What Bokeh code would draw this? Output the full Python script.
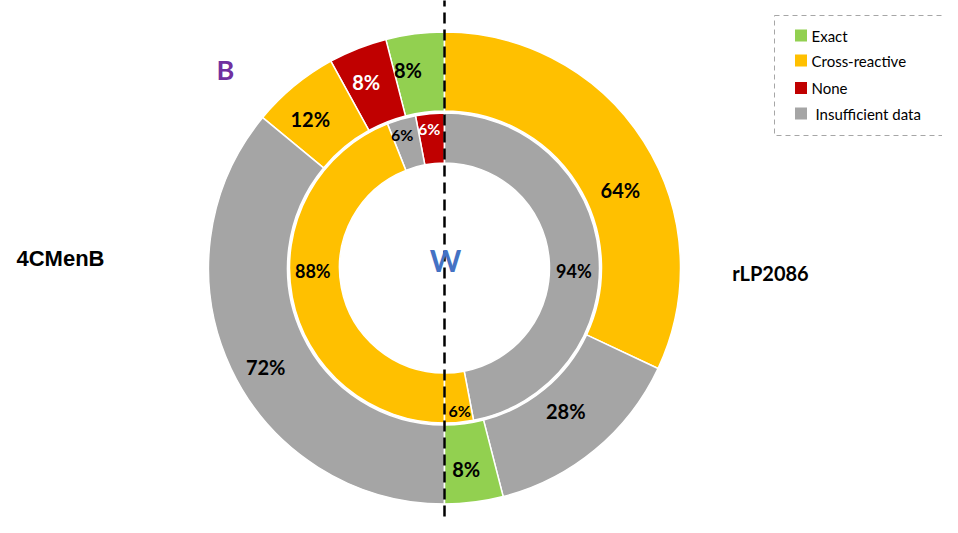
import math
from bokeh.plotting import figure
from bokeh.models import ColumnDataSource, Range1d
from bokeh.core.properties import value
from bokeh.embed import file_html
from bokeh.resources import INLINE

# ---------------- data ----------------
categories = ["Exact", "Cross-reactive", "None", "Insufficient data"]
colors = ["#92D050", "#FFC000", "#C00000", "#A5A5A5"]

# 4CMenB (left half, from top going anticlockwise)
left_outer_cats = ["Exact", "None", "Cross-reactive", "Insufficient data"]
left_outer_vals = [8, 8, 12, 72]
left_inner_cats = ["None", "Insufficient data", "Cross-reactive"]
left_inner_vals = [6, 6, 88]

# rLP2086 (right half, from top going clockwise)
right_outer_cats = ["Cross-reactive", "Insufficient data", "Exact"]
right_outer_vals = [64, 28, 8]
right_inner_cats = ["Insufficient data", "Cross-reactive"]
right_inner_vals = [94, 6]

group_names = ["4CMenB", "rLP2086"]

# ---------------- layout (pixel space, y up) ----------------
W, H = 958, 533
M = 8
FW, FH = W - 2 * M, H - 2 * M
CX, CY = 444, H - 267.5
R_OUT_O, R_OUT_I = 236, 157
R_IN_O, R_IN_I = 155, 105

# label nudges (pixels, x right / y down) relative to ring mid-point
nudge = {
    ("L", "outer"): [(-12, -3), (-6, -3), (-9, 2), (-1, 15)],
    ("L", "inner"): [(-3, -10), (-6, -9), (-4, -21)],
    ("R", "outer"): [(10, 27), (-4, -8), (-3, 6)],
    ("R", "inner"): [(0, 15), (3, 13)],
}
label_size = {"outer": "20px", "inner": "18px"}

p = figure(width=FW, height=FH, output_backend="svg",
           toolbar_location=None, x_range=Range1d(0, FW),
           y_range=Range1d(H - FH, H), min_border=0)
p.axis.visible = False
p.grid.visible = False
p.outline_line_color = None
p.background_fill_color = "white"

col = dict(zip(categories, colors))


def ring(cats, vals, side, which, r_in, r_out):
    starts, ends, fills = [], [], []
    lx, ly, txt, tcol, tsize = [], [], [], [], []
    cum = 0.0
    for i, (c, v) in enumerate(zip(cats, vals)):
        a0 = cum * 1.8
        a1 = (cum + v) * 1.8
        cum += v
        if side == "L":
            s, e = 90 + a0, 90 + a1
        else:
            s, e = 90 - a1, 90 - a0
        starts.append(math.radians(s))
        ends.append(math.radians(e))
        fills.append(col[c])
        mid = math.radians((s + e) / 2)
        rm = (r_in + r_out) / 2
        dx, dy = nudge[(side, which)][i]
        lx.append(CX + rm * math.cos(mid) + dx)
        ly.append(CY + rm * math.sin(mid) - dy)
        txt.append(f"{v}%")
        tcol.append("white" if c == "None" else "black")
        small = v <= 6 and which == "inner"
        tsize.append("16px" if small else label_size[which])
    src = ColumnDataSource(dict(s=starts, e=ends, f=fills))
    p.annular_wedge(x=CX, y=CY, inner_radius=r_in, outer_radius=r_out,
                    start_angle="s", end_angle="e", fill_color="f",
                    line_color="white", line_width=1.5, source=src)
    return dict(x=lx, y=ly, t=txt, c=tcol, z=tsize)


labels = []
labels.append(ring(left_outer_cats, left_outer_vals, "L", "outer", R_OUT_I, R_OUT_O))
labels.append(ring(left_inner_cats, left_inner_vals, "L", "inner", R_IN_I, R_IN_O))
labels.append(ring(right_outer_cats, right_outer_vals, "R", "outer", R_OUT_I, R_OUT_O))
labels.append(ring(right_inner_cats, right_inner_vals, "R", "inner", R_IN_I, R_IN_O))

for lab in labels:
    p.text(x="x", y="y", text="t", text_color="c", text_font_size="z",
           text_font=value("Lato"), text_font_style="bold",
           text_align="center", text_baseline="middle",
           source=ColumnDataSource(lab))

# centre divider
p.line(x=[CX, CX], y=[0, H + 10], line_color="black", line_width=2.5,
       line_dash="11 6")

# group names and letters
p.text(x=[60], y=[H - 257.5], text=[group_names[0]], text_font=value("Liberation Sans"),
       text_font_style="bold", text_font_size="22px", text_align="center",
       text_baseline="middle", text_color="black")
p.text(x=[770], y=[H - 272], text=[group_names[1]], text_font=value("Lato"),
       text_font_style="bold", text_font_size="20px", text_align="center",
       text_baseline="middle", text_color="black")
p.text(x=[225], y=[H - 68.5], text=["B"], text_font=value("Lato"),
       text_font_style="bold", text_font_size="27px", text_align="center",
       text_baseline="middle", text_color="#7030A0")
p.text(x=[445], y=[H - 259], text=["W"], text_font=value("Lato"),
       text_font_style="bold", text_font_size="30px", text_align="center",
       text_baseline="middle", text_color="#4472C4")

# legend
p.quad(left=[774], right=[1100], top=[H - 15], bottom=[H - 135],
       fill_color=None, line_color="#A6A6A6", line_width=1, line_dash="5 4")
leg_rows = [35, 60, 87.5, 113]
leg_text_x = [811, 811, 811, 815]
p.rect(x=[800.5] * 4, y=[H - r for r in leg_rows], width=12, height=12,
       fill_color=colors, line_color=None)
p.text(x=leg_text_x, y=[H - r for r in leg_rows], text=categories,
       text_font=value("Lato"), text_font_size="15px", text_align="left",
       text_baseline="middle", text_color="black")

open("out.html", "w").write(file_html(p, INLINE))
